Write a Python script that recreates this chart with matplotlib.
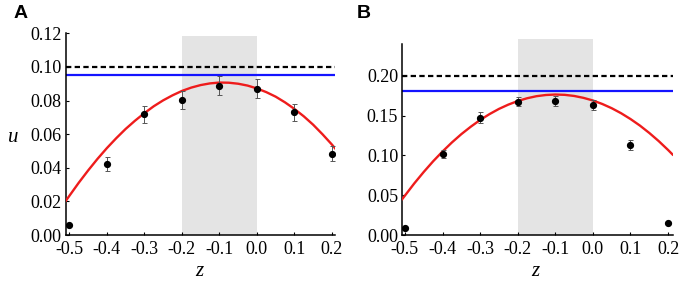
import matplotlib
matplotlib.use("Agg")
import matplotlib.pyplot as plt
from matplotlib.ticker import FixedLocator, FormatStrFormatter

plt.rcParams['axes.unicode_minus'] = False

# ---- data ----
z_pts = [-0.5, -0.4, -0.3, -0.2, -0.1, 0.0, 0.1, 0.2]

uA = [0.0058, 0.0420, 0.0718, 0.0803, 0.0887, 0.0871, 0.0729, 0.0484]
errA = [0.0, 0.0042, 0.0050, 0.0053, 0.0056, 0.0057, 0.0053, 0.0044]

uB = [0.0090, 0.1014, 0.1475, 0.1675, 0.1683, 0.1632, 0.1132, 0.0152]
errB = [0.0, 0.0052, 0.0065, 0.0055, 0.0067, 0.0059, 0.0067, 0.0]

z_curveA = [-0.509, -0.475, -0.45, -0.425, -0.40, -0.375, -0.35, -0.325, -0.30,
            -0.275, -0.25, -0.225, -0.20, -0.175, -0.15, -0.125, -0.10, -0.075,
            -0.05, -0.025, 0.00, 0.025, 0.05, 0.075, 0.10, 0.125, 0.15, 0.175,
            0.20, 0.209]
u_curveA = [0.0205, 0.0311, 0.0384, 0.0453, 0.0517, 0.0576, 0.0631, 0.0680, 0.0725,
            0.0766, 0.0801, 0.0831, 0.0857, 0.0877, 0.0892, 0.0902, 0.0907, 0.0906,
            0.0900, 0.0889, 0.0872, 0.0850, 0.0823, 0.0789, 0.0750, 0.0706, 0.0656,
            0.0599, 0.0538, 0.0514]

z_curveB = [-0.507, -0.475, -0.45, -0.425, -0.40, -0.375, -0.35, -0.325, -0.30,
            -0.275, -0.25, -0.225, -0.20, -0.175, -0.15, -0.125, -0.10, -0.075,
            -0.05, -0.025, 0.00, 0.025, 0.05, 0.075, 0.10, 0.125, 0.15, 0.175,
            0.20, 0.212]
u_curveB = [0.0452, 0.0649, 0.0792, 0.0926, 0.1049, 0.1163, 0.1267, 0.1360, 0.1445,
            0.1519, 0.1584, 0.1638, 0.1683, 0.1718, 0.1744, 0.1759, 0.1765, 0.1761,
            0.1747, 0.1723, 0.1690, 0.1646, 0.1593, 0.1530, 0.1457, 0.1375, 0.1282,
            0.1180, 0.1068, 0.1011]

dashA, blueA = 0.10, 0.095
dashB, blueB = 0.20, 0.181

band = (-0.2, 0.0)

xticks = [-0.5, -0.4, -0.3, -0.2, -0.1, 0.0, 0.1, 0.2]
yticksA = [0.00, 0.02, 0.04, 0.06, 0.08, 0.10, 0.12]
yticksB = [0.00, 0.05, 0.10, 0.15, 0.20]

# ---- figure ----
W, H = 694, 282
fig = plt.figure(figsize=(W / 100, H / 100), dpi=100)

serif = 'Liberation Serif'


def make_ax(rect, xlim, ylim, ytop_spine, yticks, z, u, err, zc, uc, dash, blue, band_top):
    ax = fig.add_axes(rect)
    ax.set_xlim(*xlim)
    ax.set_ylim(*ylim)
    ax.axvspan(band[0], band[1], ymin=0, ymax=band_top, color='#e4e4e4', lw=0, zorder=0)
    ax.axhline(dash, color='black', lw=1.6, dashes=(2.4, 1.5), zorder=2)
    ax.axhline(blue, color='#1414ff', lw=1.6, zorder=2)
    ax.plot(zc, uc, color='#ee1c1c', lw=1.7, zorder=3, solid_joinstyle='round')
    ax.errorbar(z, u, yerr=err, fmt='o', color='black', ms=4.2,
                ecolor='#555555', elinewidth=0.7, capsize=1.8, capthick=0.7, zorder=4)
    for s in ['top', 'right']:
        ax.spines[s].set_visible(False)
    for s in ['left', 'bottom']:
        ax.spines[s].set_linewidth(1.1)
    ax.spines['left'].set_bounds(ylim[0], ytop_spine)
    ax.xaxis.set_major_locator(FixedLocator(xticks))
    ax.yaxis.set_major_locator(FixedLocator(yticks))
    ax.xaxis.set_major_formatter(FormatStrFormatter('%.1f'))
    ax.yaxis.set_major_formatter(FormatStrFormatter('%.2f'))
    ax.tick_params(direction='in', length=2.5, width=0.8, labelsize=13)
    ax.tick_params(axis='x', pad=4)
    ax.tick_params(axis='y', pad=3)
    for lab in ax.get_xticklabels() + ax.get_yticklabels():
        lab.set_fontfamily(serif)
    return ax


axA = make_ax([66 / W, 47 / H, 269.3 / W, 201.7 / H], (-0.509, 0.209), (0, 0.12), 0.12,
              yticksA, z_pts, uA, errA, z_curveA, u_curveA, dashA, blueA, 0.985)
axB = make_ax([402.3 / W, 47 / H, 270.3 / W, 195.8 / H], (-0.507, 0.212), (0, 0.246), 0.24,
              yticksB, z_pts, uB, errB, z_curveB, u_curveB, dashB, blueB, 1.0)

fig.text(13 / W, 1 - 137 / H, 'u', fontfamily=serif, fontstyle='italic', fontsize=15,
         ha='center', va='center')
fig.text(199.5 / W, 1 - 272 / H, 'z', fontfamily=serif, fontstyle='italic', fontsize=15,
         ha='center', va='center')
fig.text(535.5 / W, 1 - 272 / H, 'z', fontfamily=serif, fontstyle='italic', fontsize=15,
         ha='center', va='center')

fig.text(21 / W, 1 - 13.5 / H, 'A', fontfamily='Liberation Sans', fontweight='bold',
         fontsize=14, ha='center', va='center')
fig.text(364 / W, 1 - 13.5 / H, 'B', fontfamily='Liberation Sans', fontweight='bold',
         fontsize=14, ha='center', va='center')

fig.savefig('out.png', dpi=100)
